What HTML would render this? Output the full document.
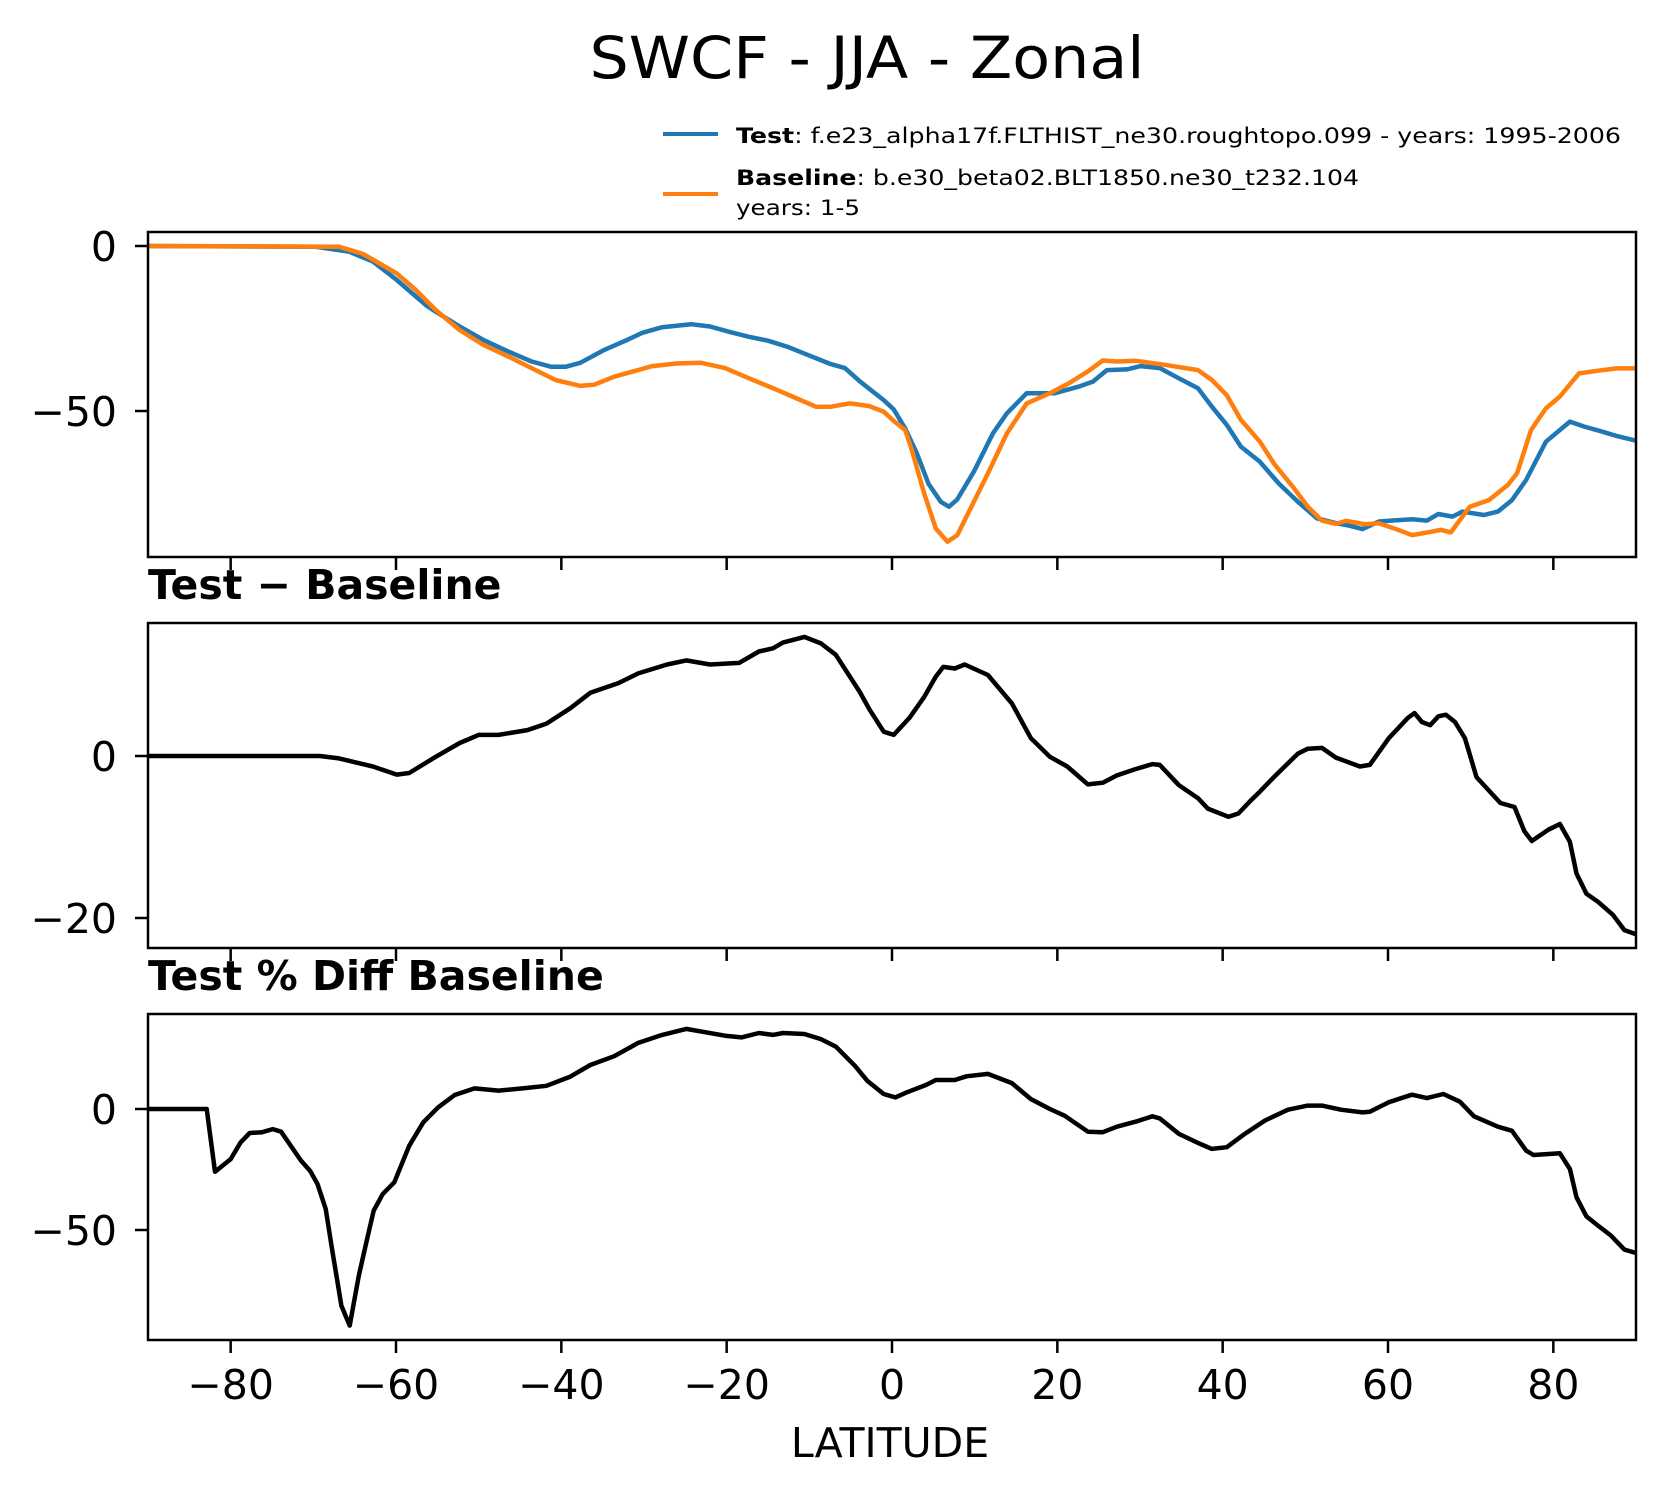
<!DOCTYPE html>
<html><head><meta charset="utf-8"><style>
html,body{margin:0;padding:0;background:#fff;}
svg{display:block;font-family:"DejaVu Sans","Liberation Sans",sans-serif;}
</style></head><body>
<svg id="chart" width="1665" height="1496" viewBox="0 0 1665 1496" xmlns="http://www.w3.org/2000/svg">
<rect width="1665" height="1496" fill="#fff"/>
<text x="867" y="78" font-size="58" text-anchor="middle" textLength="555" lengthAdjust="spacingAndGlyphs">SWCF - JJA - Zonal</text>
<g>
<line x1="663" y1="134" x2="718" y2="134" stroke="#1f77b4" stroke-width="4"/>
<text x="736" y="143" font-size="21" textLength="885" lengthAdjust="spacingAndGlyphs"><tspan font-weight="bold">Test</tspan>: f.e23_alpha17f.FLTHIST_ne30.roughtopo.099 - years: 1995-2006</text>
<line x1="663" y1="194" x2="718" y2="194" stroke="#ff7f0e" stroke-width="4"/>
<text x="736" y="185" font-size="21" textLength="623" lengthAdjust="spacingAndGlyphs"><tspan font-weight="bold">Baseline</tspan>: b.e30_beta02.BLT1850.ne30_t232.104</text>
<text x="736" y="215" font-size="21" textLength="124" lengthAdjust="spacingAndGlyphs">years: 1-5</text>
</g>
<text x="148" y="599" font-size="41" font-weight="bold">Test − Baseline</text>
<text x="148" y="990" font-size="41" font-weight="bold">Test % Diff Baseline</text>
<text x="890" y="1457" font-size="41" text-anchor="middle">LATITUDE</text>
<g id="plots"></g>
</svg>
<script>
const testLat = [-90,-69.8,-65.7,-62.8,-59.9,-56.4,-55.2,-52.3,-49.4,-46.4,-43.6,-41.2,-39.5,-37.7,-34.8,-31.9,-30.2,-27.8,-24.3,-22,-19.7,-17.3,-15,-12.7,-9.7,-7.4,-5.7,-3.9,-1,0.2,1.6,3,4.4,5.9,6.9,7.9,9.9,12.2,13.9,16.3,19.7,22.6,24.3,26,28.4,30.1,32.4,34.7,37,38.7,40.5,42.2,44.5,46.8,49.1,51.4,53.7,55.4,56.9,58.9,62.9,64.7,66.1,67.8,69,71.6,73.3,75,76.7,79.1,82,83.7,86,87.7,90];
const testVal = [0,-0.2,-1.7,-4.7,-10.3,-17.9,-19.9,-24.4,-28.5,-32,-35,-36.6,-36.6,-35.4,-31.5,-28.3,-26.3,-24.6,-23.7,-24.4,-26,-27.5,-28.7,-30.5,-33.5,-35.8,-37,-41,-46.7,-49.5,-55.3,-62.8,-72,-77.5,-79,-76.8,-68.4,-56.8,-50.7,-44.6,-44.6,-42.6,-41.1,-37.6,-37.4,-36.4,-37,-40.1,-43.1,-48.7,-54.2,-60.8,-65.4,-72,-77.5,-82.5,-84,-84.8,-85.8,-83.5,-82.8,-83.2,-81.2,-82,-80.5,-81.5,-80.5,-77,-70.9,-59.3,-53.2,-54.7,-56.3,-57.6,-59];
const baseLat = [-90,-66.9,-64,-59.9,-57.6,-55.2,-52.3,-49.4,-46.4,-43.6,-40.7,-37.7,-36,-33.6,-29,-26.1,-23.1,-20.2,-17.3,-14.4,-11.5,-9.2,-7.4,-5.1,-2.8,-1,0.2,1.6,2.4,3.9,5.3,6.7,7.9,9.6,11.6,13.9,16.3,19.1,21.4,23.7,25.5,27.2,29.5,33,37,38.7,40.5,42.2,44.5,46.2,48.5,50.3,52,53.7,54.9,57.2,58.9,61.2,62.9,65.2,66.4,67.6,69.9,72.2,74.5,75.6,77.3,79.1,80.8,83.1,85.4,87.7,90];
const baseVal = [0,-0.2,-2.4,-8.3,-13.3,-19.4,-25.5,-30,-33.5,-37,-40.6,-42.4,-42,-39.6,-36.4,-35.6,-35.4,-37,-40.1,-43.1,-46.2,-48.7,-48.7,-47.7,-48.5,-50.2,-53,-55.8,-61.8,-75,-85.6,-89.6,-87.6,-79,-68.9,-56.8,-47.7,-44.6,-41.6,-38,-34.7,-35,-34.8,-36,-37.6,-40.6,-45.2,-52.7,-59.3,-65.9,-73,-79,-83.2,-84.2,-83.3,-84.3,-84,-86,-87.6,-86.6,-86,-86.8,-79,-77,-72.4,-68.9,-55.8,-49.2,-45.6,-38.6,-37.8,-37.1,-37.1];
const diffLat = [-90,-69.2,-66.9,-62.8,-59.9,-58.4,-55.2,-52.3,-50,-47.6,-44.1,-41.8,-38.9,-36.5,-33.1,-30.7,-27.2,-24.9,-22,-18.5,-16.1,-14.4,-13.2,-10.6,-8.6,-6.8,-3.9,-2.7,-1,0.2,2.1,3.9,5.3,6.2,7.6,8.8,11.6,14.5,16.8,19.1,21.2,23.7,25.5,27.2,29.5,31.5,32.4,34.7,37,38.2,40.7,41.9,43.3,44.5,46.2,49.1,50.3,52,53.7,56.6,57.8,60.1,62.4,63.2,64.1,65.1,66.1,67,68.1,69.3,70.7,73.6,75.3,76.5,77.4,79.4,80.8,82,82.8,84,85.4,87.2,88.6,90];
const diffVal = [0,0,-0.3,-1.3,-2.3,-2.1,-0.1,1.6,2.6,2.6,3.2,4,5.9,7.8,9,10.2,11.3,11.8,11.3,11.5,12.9,13.3,14,14.7,13.9,12.5,7.9,5.7,3,2.6,4.7,7.3,9.8,11,10.8,11.3,10,6.5,2.2,-0.1,-1.3,-3.5,-3.3,-2.4,-1.6,-1,-1.1,-3.6,-5.2,-6.5,-7.5,-7.1,-5.6,-4.4,-2.6,0.3,0.9,1,-0.2,-1.3,-1.1,2.2,4.7,5.3,4.2,3.8,4.9,5.1,4.2,2.2,-2.6,-5.8,-6.3,-9.3,-10.5,-9.1,-8.4,-10.6,-14.5,-17,-18,-19.6,-21.5,-22];
const pctLat = [-90,-82.9,-81.9,-80,-78.8,-77.7,-76.2,-74.9,-73.9,-71.5,-70.4,-69.5,-68.5,-67.8,-66.6,-65.6,-64.5,-63.5,-62.7,-61.6,-60.2,-58.4,-56.7,-54.9,-52.9,-50.5,-47.6,-44.7,-41.8,-38.9,-36.5,-33.6,-30.7,-27.8,-24.9,-20.2,-18.2,-16.1,-14.4,-13.2,-10.6,-8.6,-6.8,-4.5,-3,-1,0.4,1.8,4.1,5.3,7.6,9,11.6,14.5,16.8,19.1,20.9,23.7,25.5,27.2,29.5,31.5,32.4,34.7,37,38.7,40.5,42.5,45.1,47.9,50.3,52,54.3,56.9,57.8,60.1,62.9,64.7,66.7,68.7,70.4,73.3,75,76.7,77.6,80.8,82,82.8,84,85.4,86.9,88.6,90];
const pctVal = [0,0,-25.9,-20.7,-13.8,-9.9,-9.6,-8.3,-9.4,-21.3,-25.5,-31,-41.3,-56.5,-81.3,-89.5,-68.9,-53.7,-42,-35.1,-30.3,-15.2,-5.5,0.7,5.8,8.5,7.6,8.5,9.6,13.4,18.2,21.8,27.3,30.6,33.1,30.3,29.6,31.4,30.6,31.4,31,28.9,25.8,17.9,11.7,6.2,4.8,6.9,9.9,12,12,13.5,14.5,10.7,4.1,0,-2.8,-9.4,-9.6,-7.3,-5.2,-3,-3.9,-10.3,-14,-16.5,-15.8,-10.7,-4.8,-0.3,1.4,1.4,-0.3,-1.4,-1.1,2.8,5.9,4.5,6.2,3,-3,-7.3,-9,-17.2,-19,-18.3,-24.8,-36.5,-44.4,-48.2,-52.1,-58.1,-59.5];
const xTicks = [-80,-60,-40,-20,0,20,40,60,80];
const ticks1 = [0,-50], ticks2 = [0,-20], ticks3 = [0,-50];

const NS='http://www.w3.org/2000/svg';
const root=document.getElementById('plots');
const X0=148,X1=1636;
const xs=lat=>X0+(lat+90)/180*(X1-X0);
function mk(tag,attrs,parent){const e=document.createElementNS(NS,tag);for(const k in attrs)e.setAttribute(k,attrs[k]);(parent||root).appendChild(e);return e;}
function panel(name,top,bottom,zeroY,pxPerUnit,yt,series,showXLabels){
  const ys=v=>zeroY-v*pxPerUnit;
  const g=mk('g',{});
  
  
  mk('clipPath',{id:'clip-'+name},g);
  mk('rect',{x:X0,y:top,width:X1-X0,height:bottom-top},g.lastChild);
  series.forEach(s=>{
    const d=s.lat.map((l,i)=>(i?'L':'M')+xs(l).toFixed(1)+' '+ys(s.val[i]).toFixed(1)).join(' ');
    const p=mk('path',{d:d,fill:'none',stroke:s.color,'stroke-width':4.5,'stroke-linejoin':'round','clip-path':'url(#clip-'+name+')'},g);
    
    
  });
  const fr=mk('rect',{x:X0,y:top,width:X1-X0,height:bottom-top,fill:'none',stroke:'#000','stroke-width':2.5},g);
  
  
  yt.forEach(v=>{
    const y=ys(v);
    const tk=mk('line',{x1:X0-13,x2:X0,y1:y,y2:y,stroke:'#000','stroke-width':2.5},g);
    
    
    const t=mk('text',{x:117,y:y+15,'font-size':41,'text-anchor':'end'},g);
    t.textContent=v<0?'\u2212'+Math.abs(v):String(v);
    
    
  });
  xTicks.forEach(v=>{
    const x=xs(v);
    const tk=mk('line',{x1:x,x2:x,y1:bottom,y2:bottom+13,stroke:'#000','stroke-width':2.5},g);
    
    
    if(showXLabels){
      const t=mk('text',{x:x,y:1399,'font-size':41,'text-anchor':'middle'},g);
      t.textContent=v<0?'\u2212'+Math.abs(v):String(v);
      
      
    }
  });
}
panel('zonal-mean-panel',232,557,246,3.3,ticks1,[
  {lat:testLat,val:testVal,color:'#1f77b4',name:'test-line'},
  {lat:baseLat,val:baseVal,color:'#ff7f0e',name:'baseline-line'}],false);
panel('difference-panel',623,948,756,8.1,ticks2,[
  {lat:diffLat,val:diffVal,color:'#000',name:'difference-line'}],false);
panel('percent-diff-panel',1014,1340,1109,2.42,ticks3,[
  {lat:pctLat,val:pctVal,color:'#000',name:'percent-diff-line'}],true);
</script>
</body></html>
